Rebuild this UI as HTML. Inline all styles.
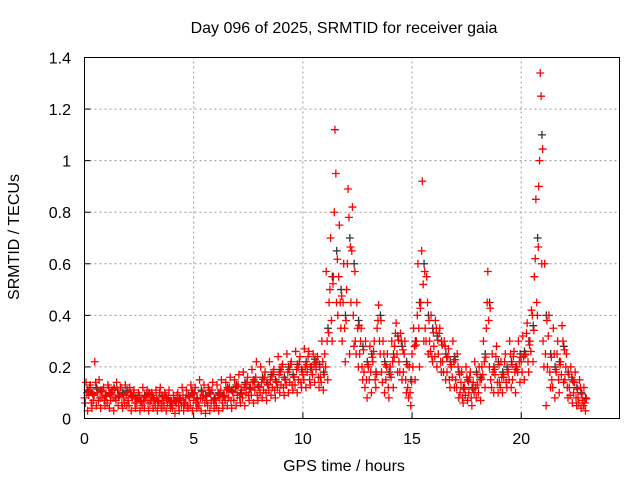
<!DOCTYPE html>
<html><head><meta charset="utf-8"><style>
body{margin:0;background:#fff}
svg{display:block;font-family:"Liberation Sans",sans-serif}
</style></head><body>
<svg id="chart" width="640" height="480" viewBox="0 0 640 480">
<rect width="640" height="480" fill="#fff"/>
<text x="344" y="33" font-size="16" text-anchor="middle">Day 096 of 2025, SRMTID for receiver gaia</text>
<text transform="translate(19,237) rotate(-90)" font-size="16" text-anchor="middle">SRMTID / TECUs</text>
<text x="344" y="471" font-size="16" text-anchor="middle">GPS time / hours</text>
<g id="grid"></g>
<g id="marks"></g>
<rect x="84.5" y="57.5" width="535" height="361" fill="none" stroke="#000"/>
<g id="ticks"></g>
</svg>
<script>
const xTicks=[0,5,10,15,20];
const yTicks=[0,0.2,0.4,0.6,0.8,1,1.2,1.4];
const yTickLabels=["0","0.2","0.4","0.6","0.8","1","1.2","1.4"];
const binHours=0.2;
const seriesA=[.08,.09,.07,.10,.08,.09,.07,.08,.09,.08,.07,.08,.06,.07,.08,.06,.07,.06,.07,.06,.05,.06,.07,.06,.08,.07,.06,.08,.07,.06,.07,.08,.09,.08,.10,.09,.11,.10,.12,.11,.12,.11,.13,.12,.14,.13,.15,.14,.16,.15,.17,.18,.20,.19,.16,.25,.45,.55,.40,.30,.50,.45,.30,.25,.18,.20,.22,.35,.18,.15,.20,.28,.22,.18,.12,.25,.30,.45,.35,.30,.28,.25,.22,.18,.20,.15,.10,.12,.10,.14,.13,.20,.35,.15,.17,.14,.16,.18,.15,.20,.22,.25,.30,.55,.90,.30,.20,.15,.18,.22,.15,.12,.10,.08,.07];
const seriesB=[.14,.13,.22,.15,.12,.13,.11,.14,.12,.13,.12,.11,.10,.12,.11,.10,.11,.12,.10,.11,.09,.10,.12,.11,.13,.12,.15,.13,.12,.14,.13,.15,.14,.16,.15,.17,.18,.16,.19,.22,.20,.18,.22,.19,.24,.21,.25,.22,.26,.24,.27,.26,.25,.24,.30,.57,.70,1.12,.75,.60,.89,.82,.45,.35,.30,.28,.30,.44,.30,.25,.30,.37,.33,.30,.20,.35,.60,.92,.55,.40,.38,.35,.30,.27,.30,.25,.18,.20,.18,.22,.20,.30,.57,.25,.28,.22,.25,.30,.26,.30,.32,.37,.42,.85,1.34,.60,.40,.35,.30,.36,.25,.20,.18,.15,.12];
const seriesC=[.03,.04,.05,.04,.05,.04,.03,.05,.04,.05,.03,.04,.03,.04,.03,.04,.03,.04,.03,.04,.02,.03,.03,.04,.03,.04,.03,.02,.03,.04,.03,.04,.05,.04,.05,.06,.05,.07,.06,.07,.08,.07,.09,.08,.10,.09,.10,.11,.10,.12,.12,.13,.14,.12,.11,.15,.30,.45,.35,.22,.25,.28,.20,.15,.08,.10,.12,.25,.10,.08,.12,.18,.15,.10,.05,.15,.20,.30,.25,.22,.20,.18,.15,.12,.12,.08,.06,.07,.05,.08,.07,.12,.20,.10,.10,.10,.12,.12,.10,.14,.15,.18,.22,.40,.60,.05,.12,.08,.10,.14,.08,.06,.05,.04,.03];
const seriesD=[.11,.10,.12,.11,.09,.10,.12,.09,.10,.11,.09,.08,.07,.09,.10,.08,.07,.09,.08,.07,.07,.08,.06,.09,.10,.08,.11,.09,.10,.08,.10,.09,.12,.11,.13,.10,.14,.12,.15,.13,.16,.14,.17,.15,.19,.16,.20,.17,.21,.19,.22,.20,.23,.21,.18,.35,.55,.65,.50,.40,.70,.60,.38,.28,.22,.25,.18,.40,.22,.18,.25,.32,.28,.22,.15,.30,.45,.60,.40,.35,.32,.30,.25,.22,.24,.18,.12,.15,.12,.18,.16,.25,.45,.20,.22,.18,.20,.22,.20,.25,.26,.30,.36,.70,1.10,.40,.25,.20,.22,.28,.18,.15,.12,.10,.08];
const seriesE=[.06,.12,.09,.07,.11,.06,.10,.07,.12,.06,.05,.10,.08,.05,.09,.07,.05,.10,.05,.08,.04,.09,.05,.08,.05,.10,.05,.09,.05,.11,.05,.11,.07,.12,.07,.13,.08,.14,.09,.16,.10,.16,.11,.18,.12,.20,.13,.21,.13,.22,.15,.24,.17,.22,.14,.20,.50,.80,.55,.45,.60,.65,.25,.30,.12,.15,.26,.38,.14,.20,.16,.33,.18,.25,.08,.20,.40,.65,.30,.26,.24,.33,.18,.24,.16,.12,.14,.09,.16,.10,.10,.17,.45,.12,.24,.12,.22,.15,.24,.18,.18,.33,.26,.62,1.00,.20,.32,.12,.25,.17,.20,.09,.14,.06,.05];
const seriesF=[.10,.06,.14,.08,.07,.12,.08,.11,.06,.09,.10,.06,.09,.07,.06,.09,.08,.05,.09,.06,.07,.05,.09,.05,.11,.06,.08,.06,.11,.07,.09,.06,.11,.07,.12,.08,.12,.09,.14,.09,.14,.10,.15,.11,.17,.12,.18,.13,.19,.14,.20,.15,.21,.16,.22,.30,.38,.95,.45,.35,.78,.40,.35,.20,.15,.18,.15,.30,.25,.12,.22,.25,.30,.15,.10,.28,.35,.52,.45,.24,.35,.22,.28,.15,.22,.20,.08,.16,.08,.12,.15,.22,.38,.18,.14,.16,.14,.25,.18,.22,.24,.22,.40,.45,1.25,.25,.18,.25,.15,.30,.12,.16,.08,.12,.06];
const X0=84.5,X1=619.5,Y0=418.5,Y1=57.5,XMAX=24.5,YMAX=1.4;
const xs=v=>X0+(X1-X0)*v/XMAX;
const ys=v=>Y0-(Y0-Y1)*v/YMAX;
const NS="http://www.w3.org/2000/svg";
const grid=document.getElementById('grid'),marks=document.getElementById('marks'),ticks=document.getElementById('ticks');
function mk(tag,attrs,parent){const e=document.createElementNS(NS,tag);for(const k in attrs)e.setAttribute(k,attrs[k]);parent.appendChild(e);return e;}
xTicks.forEach(t=>{
  const x=xs(t);
  if(t>0){const g=mk('line',{x1:x,x2:x,y1:Y0,y2:Y1,stroke:'#999','stroke-dasharray':'2,3'},grid);
  
  }
  const l=mk('line',{x1:x,x2:x,y1:Y0,y2:Y0-6,stroke:'#000'},ticks);
  
  
  const tx=mk('text',{x:x,y:444,'font-size':16,'text-anchor':'middle'},ticks);tx.textContent=t;
  
  
});
yTicks.forEach((t,i)=>{
  const y=ys(t);
  if(t>0&&t<1.4){const g=mk('line',{x1:X0,x2:X1,y1:y,y2:y,stroke:'#999','stroke-dasharray':'2,3'},grid);
  
  }
  const l=mk('line',{x1:X0,x2:X0+6,y1:y,y2:y,stroke:'#000'},ticks);
  
  
  const tx=mk('text',{x:71,y:y+6,'font-size':16,'text-anchor':'end'},ticks);tx.textContent=yTickLabels[i];
  
  
});
function plus(x,y,color,name){
  const p=mk('path',{d:`M${x-4},${y}h8M${x},${y-4}v8`,stroke:color,'stroke-width':1.3,fill:'none'},marks);
  
  
}
seriesD.forEach((v,i)=>plus(xs(i*binHours+0.15),ys(v),'#333','point-black'));
const allSeries=[seriesA,seriesB,seriesC,seriesE,seriesF];
const offsets=[0,0.07,0.14,0.04,0.11];
allSeries.forEach((s,k)=>s.forEach((v,i)=>plus(xs(i*binHours+offsets[k]),ys(v),'#f00','point-red')));
seriesD.forEach((v,i)=>plus(xs(i*binHours+0.18),ys(v*0.95),'#f00','point-red'));
</script>
</body></html>
